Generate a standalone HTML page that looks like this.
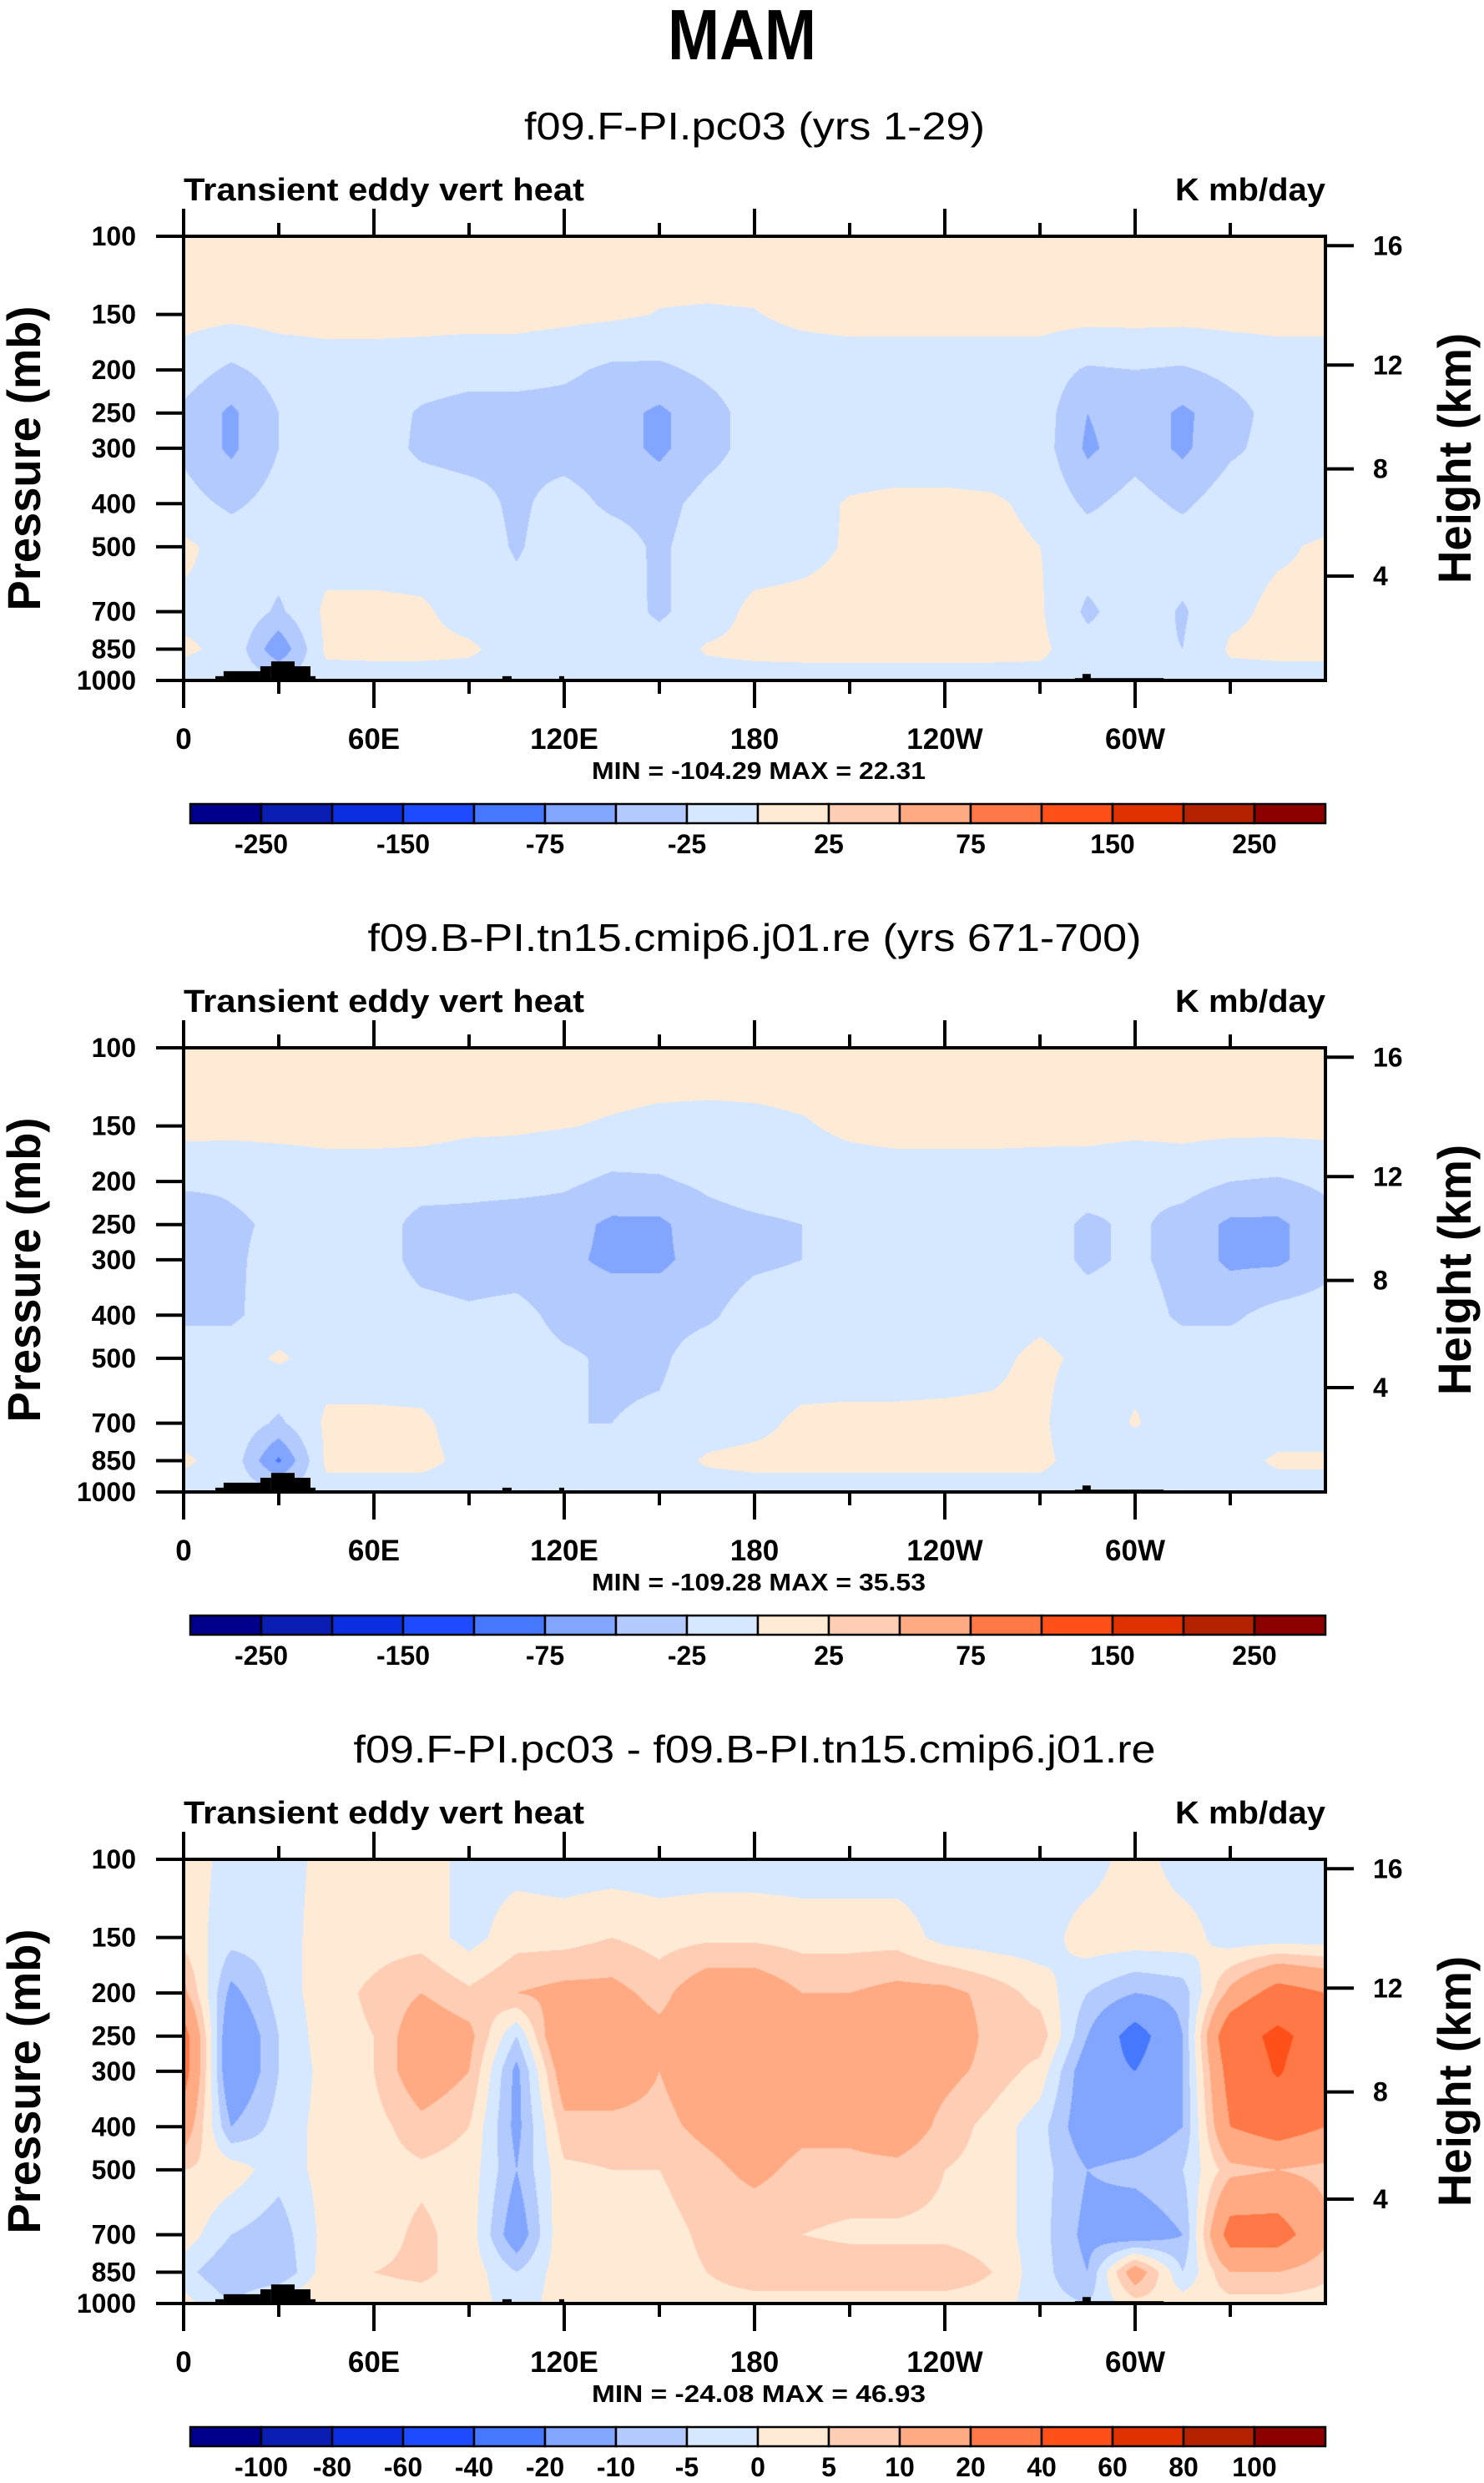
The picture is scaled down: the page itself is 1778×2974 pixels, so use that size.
<!DOCTYPE html>
<html><head><meta charset="utf-8">
<style>
html,body{margin:0;padding:0;background:#fff;}
#wrap{position:relative;width:1778px;height:2974px;overflow:hidden;background:#fff;}
canvas{position:absolute;}
svg{position:absolute;left:0;top:0;}
text{font-family:"Liberation Sans",Arial,sans-serif;fill:#000;}
</style></head>
<body>
<div id="wrap">
<canvas id="c0" width="1368" height="532" style="left:220px;top:283px"></canvas>
<canvas id="c1" width="1368" height="532" style="left:220px;top:1255px"></canvas>
<canvas id="c2" width="1368" height="532" style="left:220px;top:2227px"></canvas>
<svg id="ov" width="1778" height="2974" xmlns="http://www.w3.org/2000/svg">
<text x="889" y="71" font-size="85" font-weight="bold" text-anchor="middle" textLength="178" lengthAdjust="spacingAndGlyphs">MAM</text>
</svg>
</div>
<script>
// ---- data ----
const lons=[0,15,30,45,60,75,90,105,120,135,150,165,180,195,210,225,240,255,270,285,300,315,330,345,360];
const levels=[100,150,200,250,300,400,500,700,850,1000];
const pressureTicks=[100,150,200,250,300,400,500,700,850,1000];
const lonTickLabels=["0","60E","120E","180","120W","60W"];
const heightTicks=["16","12","8","4"];
const heightTickPressure=[105,195,334,582];
const absLevels=[-250,-200,-150,-100,-75,-50,-25,0,25,50,75,100,150,200,250];
const absLabels=["-250","-150","-75","-25","25","75","150","250"];
const diffLevels=[-100,-80,-60,-40,-20,-10,-5,0,5,10,20,40,60,80,100];
const diffLabels=["-100","-80","-60","-40","-20","-10","-5","0","5","10","20","40","60","80","100"];
const palette=["#00008c","#0a1eb4","#0a2ee0","#1e4bff","#4678ff","#82a5ff","#b3caff","#d6e8ff","#ffead6","#ffcdb3","#ffaa82","#ff7846","#ff5019","#e03200","#b42200","#8c0000"];
const titles=["f09.F-PI.pc03 (yrs 1-29)","f09.B-PI.tn15.cmip6.j01.re (yrs 671-700)","f09.F-PI.pc03 - f09.B-PI.tn15.cmip6.j01.re"];
const titleWidths=[552,927,961];
const minVals=["-104.29","-109.28","-24.08"];
const maxVals=["22.31","35.53","46.93"];
// field rows: one row per pressure level (100..1000), one value per lon (0..360 step 15)
const ctlField=[
[12,12,12,12,12,12,12,12,12,12,12,12,12,12,12,12,12,12,12,12,12,12,12,12,12],
[8,6,8,8,8,8,8,8,6,4,-1,-2,-1,5,8,8,8,8,8,8,8,8,8,8,8],
[-12,-30,-15,-10,-10,-12,-15,-15,-20,-30,-30,-20,-12,-12,-12,-12,-12,-12,-12,-28,-25,-28,-18,-12,-12],
[-30,-55,-25,-12,-12,-28,-35,-35,-35,-40,-55,-35,-15,-12,-12,-12,-12,-12,-12,-50,-35,-55,-35,-15,-25],
[-30,-55,-25,-12,-12,-30,-35,-30,-35,-40,-55,-35,-15,-12,-12,-12,-12,-12,-12,-55,-35,-55,-30,-15,-22],
[-15,-30,-15,-10,-10,-10,-15,-30,-15,-30,-35,-15,-10,-8,2,5,5,3,-5,-30,-15,-30,-10,-10,-10],
[5,-10,-10,-10,-10,-10,-10,-28,-10,-12,-30,-10,-10,-6,2,6,6,6,0,-10,-10,-10,-8,-3,3],
[-5,-3,-30,5,5,3,-8,-15,-8,-10,-30,-10,5,6,6,6,6,6,3,-30,-10,-28,-5,5,3],
[3,-5,-70,5,5,5,3,-8,-8,-10,-12,2,5,6,6,6,6,6,5,-15,-20,-25,3,5,5],
[-8,-8,-20,-10,-8,-8,-8,-8,-8,-8,-8,-8,-8,-8,-8,-8,-8,-8,-8,-8,-8,-8,-8,-8,-8]];
const cplField=[
[12,12,12,12,12,12,12,12,12,12,12,12,12,12,12,12,12,12,12,12,12,12,12,12,12],
[7,7,7,7,7,7,4,3,1,-2,-5,-6,-5,-2,4,7,7,7,6,7,7,7,7,7,7],
[-18,-20,-15,-10,-10,-12,-15,-15,-20,-30,-28,-20,-12,-10,-10,-10,-10,-10,-10,-12,-20,-15,-25,-28,-20],
[-50,-30,-20,-10,-10,-35,-35,-40,-40,-55,-55,-35,-30,-25,-25,-12,-12,-12,-12,-30,-20,-35,-55,-55,-35],
[-50,-30,-15,-10,-10,-35,-40,-40,-45,-55,-55,-40,-30,-25,-15,-12,-12,-12,-12,-30,-20,-35,-55,-55,-35],
[-30,-30,-12,-10,-10,-15,-20,-15,-35,-35,-35,-30,-12,-10,-10,-10,-10,-10,-5,-12,-12,-30,-30,-15,-12],
[-10,-10,3,-10,-10,-10,-10,-10,-20,-30,-30,-10,-10,-10,-10,-10,-8,-5,5,-5,-10,-10,-10,-10,-10],
[-10,-5,-30,4,4,3,-8,-10,-25,-25,-20,-8,-5,4,5,5,5,5,5,-20,3,-20,-20,-10,-10],
[3,-8,-80,5,5,5,-5,-10,-10,-10,-8,2,5,5,5,5,5,5,5,-10,-20,-10,-8,3,3],
[-8,-8,-20,-8,-8,-8,-8,-8,-8,-8,-8,-8,-8,-8,-8,-8,-8,-8,-8,-8,-8,-8,-8,-8,-8]];
const diffField=[
[3,-2,-3,2,3,3,-2,-2,-3,-3,-3,-3,-3,-3,-3,-3,-3,-3,-3,-3,3,-3,-3,-3,-3],
[3,-3,-3,3,3,3,-2,3,3,5,3,4,4,3,3,3,-2,-3,-3,3,3,3,-3,-3,-3],
[12,-12,-3,3,6,10,6,10,12,12,8,15,15,10,10,12,12,8,3,-5,-10,-8,12,25,20],
[25,-18,-5,3,5,15,12,-5,20,15,12,15,18,12,15,18,15,8,8,-10,-25,-10,30,45,30],
[25,-18,-5,2,5,15,10,-12,15,15,10,15,18,12,15,15,12,8,3,-15,-20,-10,25,42,25],
[15,-10,-3,2,3,8,5,-12,8,8,8,12,15,12,12,15,8,3,-3,-15,-15,-10,20,25,20],
[5,3,-3,2,3,4,3,-10,4,5,5,8,12,8,8,8,5,3,-3,-10,-8,-5,8,10,8],
[3,-5,-8,2,3,6,3,-15,5,3,3,6,5,5,4,4,4,3,-3,-12,-15,-10,25,25,12],
[-3,-10,-10,3,5,6,3,-5,3,3,3,5,8,8,8,8,8,5,-3,-10,15,-5,10,10,6],
[2,-5,3,5,3,3,3,-3,3,3,3,3,3,3,3,3,3,3,-3,-5,3,3,3,3,3]];
const fields=[ctlField,cplField,diffField];
const levelSets=[absLevels,absLevels,diffLevels];
const labelSets=[absLabels,absLabels,diffLabels];
// topography blocks: lon start, lon end, top pressure (mb)
const topoStart=[10,12.6,24.2,27.6,35,40,100.5,118.4,281,283.4];
const topoEnd=[12.6,24.2,27.6,35,40,41.6,103.4,120,309,286];
const topoTop=[978,953,929,906,929,978,978,978,988,967];

// ---- geometry ----
const X0=220,W=1368,H=532,TOP0=283,DY=972;
function xOf(lon){return X0+lon/360*W;}
function yOf(p,top){return top+H*Math.log10(p/100);}
function hexRgb(h){return [parseInt(h.substr(1,2),16),parseInt(h.substr(3,2),16),parseInt(h.substr(5,2),16)];}
const palRgb=palette.map(hexRgb);
function colorIndex(v,lv){let k=0;while(k<lv.length&&v>=lv[k])k++;return k;}

function drawField(ci,field,lv){
  const cv=document.getElementById('c'+ci);const ctx=cv.getContext('2d');
  const img=ctx.createImageData(W,H);const d=img.data;
  const lg=levels.map(p=>Math.log10(p));
  for(let py=0;py<H;py++){
    const lp=2+(py+0.5)/H;
    let k=0;while(k<levels.length-2&&lp>lg[k+1])k++;
    let t=(lp-lg[k])/(lg[k+1]-lg[k]);t=Math.max(0,Math.min(1,t));
    const r0=field[k],r1=field[k+1];
    for(let px=0;px<W;px++){
      const lon=(px+0.5)/W*360;let i=Math.floor(lon/15);if(i>23)i=23;const s=(lon-lons[i])/15;
      const a=r0[i]*(1-s)+r0[i+1]*s,b=r1[i]*(1-s)+r1[i+1]*s;
      const v=a*(1-t)+b*t;
      const c=palRgb[colorIndex(v,lv)];const o=(py*W+px)*4;
      d[o]=c[0];d[o+1]=c[1];d[o+2]=c[2];d[o+3]=255;
    }
  }
  ctx.putImageData(img,0,0);
}

const NS='http://www.w3.org/2000/svg';
const ov=document.getElementById('ov');
function mk(tag,attrs,txt){const e=document.createElementNS(NS,tag);for(const k in attrs)e.setAttribute(k,attrs[k]);if(txt!==undefined)e.textContent=txt;ov.appendChild(e);return e;}

for(let pi=0;pi<3;pi++){
  drawField(pi,fields[pi],levelSets[pi]);
  const top=TOP0+pi*DY,bot=top+H;
  let e;
  e=mk('text',{x:904,y:167+pi*DY,'font-size':46,'text-anchor':'middle',textLength:titleWidths[pi],lengthAdjust:'spacingAndGlyphs'},titles[pi]);
  
  
  e=mk('text',{x:220,y:240+pi*DY,'font-size':38,'font-weight':'bold',textLength:480,lengthAdjust:'spacingAndGlyphs'},'Transient eddy vert heat');
  
  
  e=mk('text',{x:1588,y:240+pi*DY,'font-size':38,'font-weight':'bold','text-anchor':'end',textLength:180,lengthAdjust:'spacingAndGlyphs'},'K mb/day');
  
  
  for(let j=0;j<topoStart.length;j++){
    e=mk('rect',{x:xOf(topoStart[j]),y:yOf(topoTop[j],top),width:xOf(topoEnd[j])-xOf(topoStart[j]),height:bot-yOf(topoTop[j],top),fill:'#000'});
    
    
  }
  e=mk('rect',{x:X0,y:top,width:W,height:H,fill:'none',stroke:'#000','stroke-width':4});
  
  
  for(let lon=0;lon<=330;lon+=30){
    const maj=lon%60===0,x=xOf(lon),len=maj?33:16;
    mk('line',{x1:x,y1:top,x2:x,y2:top-len,stroke:'#000','stroke-width':4});
    mk('line',{x1:x,y1:bot,x2:x,y2:bot+len,stroke:'#000','stroke-width':4});
    if(maj){
      e=mk('text',{x:x,y:bot+82,'font-size':35,'font-weight':'bold','text-anchor':'middle'},lonTickLabels[lon/60]);
      
      
    }
  }
  for(let j=0;j<pressureTicks.length;j++){
    const y=yOf(pressureTicks[j],top);
    mk('line',{x1:187,y1:y,x2:X0,y2:y,stroke:'#000','stroke-width':4});
    e=mk('text',{x:163,y:y+11,'font-size':32,'font-weight':'bold','text-anchor':'end'},String(pressureTicks[j]));
    
    
  }
  for(let j=0;j<heightTicks.length;j++){
    const y=yOf(heightTickPressure[j],top);
    mk('line',{x1:X0+W,y1:y,x2:1622,y2:y,stroke:'#000','stroke-width':4});
    e=mk('text',{x:1645,y:y+11,'font-size':32,'font-weight':'bold'},heightTicks[j]);
    
    
  }
  const mid=(top+bot)/2;
  e=mk('text',{x:48,y:mid,'font-size':56,'font-weight':'bold','text-anchor':'middle',transform:'rotate(-90 48 '+mid+')',textLength:365,lengthAdjust:'spacingAndGlyphs'},'Pressure (mb)');
  
  
  e=mk('text',{x:1762,y:mid,'font-size':56,'font-weight':'bold','text-anchor':'middle',transform:'rotate(-90 1762 '+mid+')',textLength:300,lengthAdjust:'spacingAndGlyphs'},'Height (km)');
  
  
  e=mk('text',{x:909,y:bot+118,'font-size':29,'font-weight':'bold','text-anchor':'middle',textLength:400,lengthAdjust:'spacingAndGlyphs','xml:space':'preserve'},'MIN = '+minVals[pi]+'  MAX =  '+maxVals[pi]);
  
  
  const cbx=228,cbw=1360,cby=963+pi*DY,cbh=23,bw=cbw/16;
  for(let j=0;j<16;j++){
    e=mk('rect',{x:cbx+j*bw,y:cby,width:bw,height:cbh,fill:palette[j],stroke:'#000','stroke-width':2.5});
    
    
  }
  const labs=labelSets[pi];
  const step=labs.length===8?2:1;
  for(let j=0;j<labs.length;j++){
    const bi=step===2?1+2*j:1+j;
    e=mk('text',{x:cbx+bi*bw,y:cby+59,'font-size':32,'font-weight':'bold','text-anchor':'middle'},labs[j]);
    
    
  }
}
</script>
</body></html>
